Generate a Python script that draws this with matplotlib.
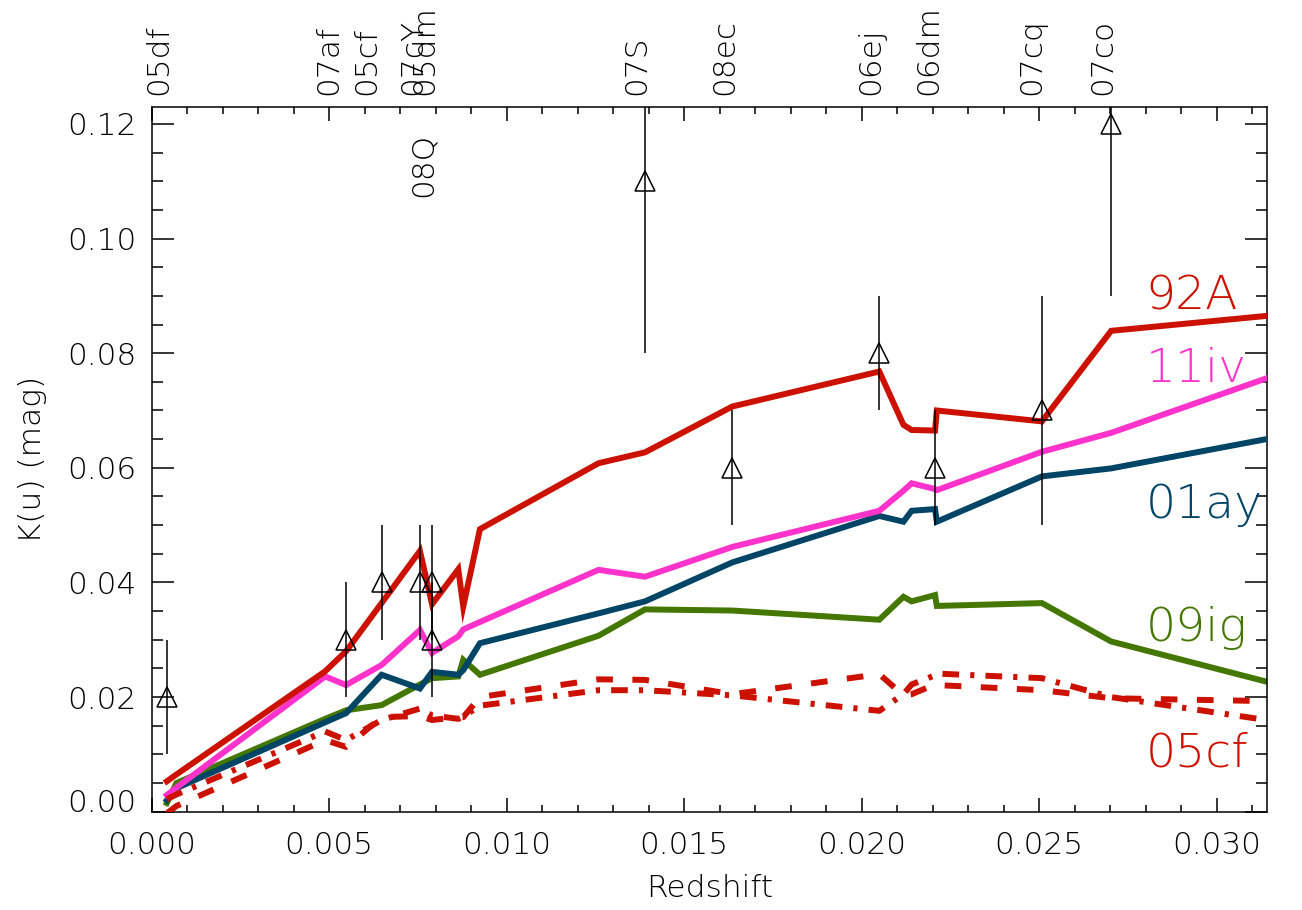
import matplotlib
matplotlib.use('Agg')
import matplotlib.pyplot as plt
from matplotlib import font_manager
from matplotlib.ticker import MultipleLocator, FixedLocator, FormatStrFormatter

# ---------------- data ----------------
z = [0.00043, 0.00070, 0.00489, 0.00548, 0.00648, 0.00756, 0.00790, 0.00864,
     0.00878, 0.00925, 0.01259, 0.01390, 0.01636, 0.02050, 0.02118, 0.02141,
     0.02207, 0.02212, 0.02508, 0.02703, 0.03140]

k_92A = [0.0053, 0.0065, 0.0245, 0.0280, 0.0364, 0.0455, 0.0362, 0.0423,
         0.0358, 0.0493, 0.0608, 0.0627, 0.0707, 0.0768, 0.0675, 0.0666,
         0.0665, 0.0700, 0.0681, 0.0839, 0.0865]
k_11iv = [0.0029, 0.0042, 0.0236, 0.0221, 0.0256, 0.0317, 0.0277, 0.0306,
          0.0318, 0.0331, 0.0422, 0.0410, 0.0462, 0.0525, 0.0560, 0.0573,
          0.0563, 0.0561, 0.0628, 0.0661, 0.0756]
k_01ay = [0.0020, 0.0041, 0.0156, 0.0172, 0.0239, 0.0215, 0.0244, 0.0239,
          0.0247, 0.0294, 0.0346, 0.0367, 0.0435, 0.0516, 0.0506, 0.0525,
          0.0528, 0.0506, 0.0585, 0.0599, 0.0650]
k_09ig = [0.0015, 0.0050, 0.0162, 0.0177, 0.0186, 0.0222, 0.0233, 0.0236,
          0.0265, 0.0239, 0.0307, 0.0353, 0.0351, 0.0335, 0.0375, 0.0367,
          0.0378, 0.0359, 0.0364, 0.0297, 0.0227]
k_05cf_dash = [-0.0003, 0.0010, 0.0125, 0.0113, 0.0165, 0.0167, 0.0160, 0.0165,
               0.0165, 0.0200, 0.0231, 0.0230, 0.0205, 0.0240, 0.0203, 0.0205,
               0.0222, 0.0221, 0.0212, 0.0198, 0.0193]
k_05cf_dashdot = [0.0022, 0.0030, 0.0140, 0.0125, 0.0160, 0.0180, 0.0168, 0.0162,
                  0.0166, 0.0185, 0.0212, 0.0212, 0.0203, 0.0176, 0.0205, 0.0222,
                  0.0238, 0.0241, 0.0233, 0.0200, 0.0160]

sn_names = ['05df', '07af', '05cf', '07cY', '05dm', '08Q', '07S', '08ec',
            '06ej', '06dm', '07cq', '07co']
sn_z = [0.00043, 0.00548, 0.00648, 0.00756, 0.00790, 0.00790, 0.01390,
        0.01636, 0.02050, 0.02207, 0.02508, 0.02703]
sn_k = [0.020, 0.030, 0.040, 0.040, 0.040, 0.030, 0.110, 0.060, 0.080,
        0.060, 0.070, 0.120]
sn_err = [0.010, 0.010, 0.010, 0.010, 0.010, 0.010, 0.030, 0.010, 0.010,
          0.010, 0.020, 0.030]
label_z = [0.00043, 0.00523, 0.00630, 0.00760, 0.00793, 0.00790, 0.01390,
           0.01638, 0.02050, 0.02212, 0.02503, 0.02703]
inside_labels = ['08Q']

model_names = ['92A', '11iv', '01ay', '09ig', '05cf']
model_label_y = [0.0876, 0.0749, 0.0513, 0.0298, 0.0079]
model_label_x = 0.0280

x_ticks = [0.000, 0.005, 0.010, 0.015, 0.020, 0.025, 0.030]
y_ticks = [0.00, 0.02, 0.04, 0.06, 0.08, 0.10, 0.12]

# ---------------- fonts ----------------
def pick_font():
    avail = {}
    for f in font_manager.fontManager.ttflist:
        w = f.weight if isinstance(f.weight, int) else font_manager.weight_dict.get(f.weight, 400)
        avail.setdefault(f.name, set()).add(w)
    for fam in ['DejaVu Sans', 'Lato', 'Roboto', 'Open Sans', 'Inter', 'Noto Sans']:
        for w in (200, 300):
            if w in avail.get(fam, set()):
                return fam, w
    return 'DejaVu Sans', 400

FAM, WT = pick_font()
plt.rcParams['font.family'] = [FAM, 'DejaVu Sans']
plt.rcParams['font.weight'] = WT
plt.rcParams['axes.labelweight'] = WT
plt.rcParams['lines.scale_dashes'] = False

RED = '#cc1100'
PINK = '#ff33cc'
BLUE = '#004466'
GREEN = '#447700'

FS = 22.5
FS_BIG = 34

fig = plt.figure(figsize=(13.02, 9.10), dpi=100)
ax = fig.add_axes([0.1164, 0.1080, 0.8567, 0.7741])

LW = 4.3
ax.plot(z, k_09ig, color=GREEN, lw=LW, solid_joinstyle='miter', zorder=2)
ax.plot(z, k_01ay, color=BLUE, lw=LW, solid_joinstyle='miter', zorder=3)
ax.plot(z, k_11iv, color=PINK, lw=LW, solid_joinstyle='miter', zorder=4)
ax.plot(z, k_92A, color=RED, lw=LW, solid_joinstyle='miter', zorder=5)
ax.plot(z, k_05cf_dash, color=RED, lw=LW, dashes=(12, 14),
        dash_capstyle='butt', zorder=5)
ax.plot(z, k_05cf_dashdot, color=RED, lw=LW, dashes=(12, 8, 3, 8),
        dash_capstyle='butt', zorder=5)

ax.errorbar(sn_z, sn_k, yerr=sn_err, fmt='^', ms=14.5, mfc='none', mec='black',
            mew=1.1, ecolor='black', elinewidth=1.1, capsize=0, zorder=6)

model_colors = [RED, PINK, BLUE, GREEN, RED]
for name, yy, col in zip(model_names, model_label_y, model_colors):
    ax.text(model_label_x, yy, name, color=col, fontsize=FS_BIG,
            fontweight=WT, ha='left', va='baseline', zorder=7)

trans = ax.get_xaxis_transform()
for name, lz in zip(sn_names, label_z):
    if name in inside_labels:
        ax.text(lz, 0.1073, name, rotation=90, rotation_mode='anchor',
                ha='left', va='baseline', fontsize=FS, fontweight=WT,
                color='black', zorder=7)
    else:
        ax.text(lz, 1.0175, name, transform=trans, rotation=90,
                rotation_mode='anchor', ha='left', va='baseline',
                fontsize=FS, fontweight=WT, color='black', clip_on=False)

ax.set_xlim(0.0, 0.03142)
ax.set_ylim(0.0, 0.1229)
ax.xaxis.set_major_locator(FixedLocator(x_ticks))
ax.xaxis.set_minor_locator(MultipleLocator(0.001))
ax.yaxis.set_major_locator(FixedLocator(y_ticks))
ax.yaxis.set_minor_locator(MultipleLocator(0.005))
ax.xaxis.set_major_formatter(FormatStrFormatter('%.3f'))
ax.yaxis.set_major_formatter(FormatStrFormatter('%.2f'))

for sp in ax.spines.values():
    sp.set_linewidth(1.1)
ax.tick_params(which='both', direction='in', top=True, right=True,
               labeltop=False, labelright=False, width=1.1, labelsize=FS)
ax.tick_params(axis='x', which='major', length=10, pad=14)
ax.tick_params(axis='x', which='minor', length=5)
ax.tick_params(axis='y', which='major', length=16, pad=11)
ax.tick_params(axis='y', which='minor', length=8)

ax.set_xlabel('Redshift', fontsize=FS, fontweight=WT, labelpad=10)
ax.set_ylabel('K(u) (mag)', fontsize=FS, fontweight=WT, labelpad=14)

t0 = ax.yaxis.get_major_ticks()[0]
t0.label1.set_va('baseline')

fig.savefig('out.png', dpi=100)
